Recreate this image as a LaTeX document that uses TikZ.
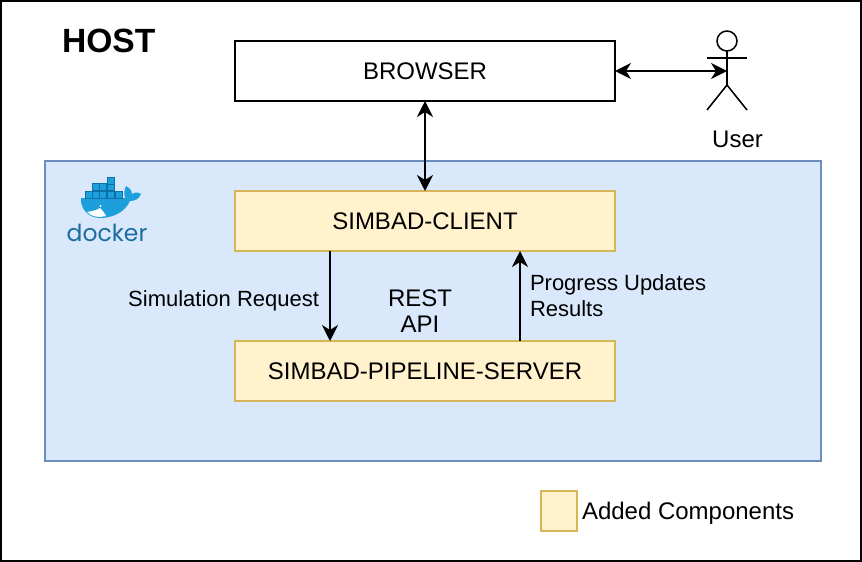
\documentclass[tikz,border=0pt]{standalone}
\usepackage{fontspec}
\setmainfont{Liberation Sans}
\newfontfamily\dockerfont{Poppins}
\usetikzlibrary{arrows.meta}
\definecolor{hostblue}{HTML}{DAE8FC}
\definecolor{hostedge}{HTML}{6C8EBF}
\definecolor{addfill}{HTML}{FFF2CC}
\definecolor{addedge}{HTML}{D6B656}
\definecolor{dockerblue}{HTML}{1D9FDB}
\definecolor{dockerdark}{HTML}{0B6FA8}
\definecolor{dockertext}{HTML}{1A6E9E}
\tikzset{
  x=1pt,y=-1pt,
  every node/.style={font=\fontsize{24}{28}\selectfont,text=black,inner sep=0pt,outer sep=0pt},
  plainbox/.style={draw=black,line width=1.5pt,fill=white,minimum width=380pt,minimum height=60pt,anchor=north west},
  addbox/.style={draw=addedge,line width=1.5pt,fill=addfill,minimum width=380pt,minimum height=60pt,anchor=north west},
  link/.style={draw=black,line width=1.5pt,-{Stealth[length=16pt,width=16pt,inset=5pt]}},
  biglink/.style={link,{Stealth[length=16pt,width=16pt,inset=5pt]}-{Stealth[length=16pt,width=16pt,inset=5pt]}},
  small/.style={font=\fontsize{22}{26}\selectfont,align=left},
  figure/.style={draw=black,line width=1.5pt},
  crate/.style={fill=dockerblue,draw=dockerdark,line width=0.5pt}
}
\begin{document}
\begin{tikzpicture}
\useasboundingbox (0,0) rectangle (862,562);
\draw[line width=1.5pt,fill=white] (1,1) rectangle (861,561);
\node[anchor=west,font=\fontsize{33.6}{38}\selectfont\bfseries] (host) at (62,41) {HOST};
\draw[draw=hostedge,line width=1.5pt,fill=hostblue] (45,161) rectangle (821,461);
\node[plainbox] (browser) at (235,41) {BROWSER};
\node[addbox] (client) at (235,191) {SIMBAD-CLIENT};
\node[addbox] (server) at (235,341) {SIMBAD-PIPELINE-SERVER};
\node[draw=addedge,line width=1.5pt,fill=addfill,minimum width=36pt,minimum height=40pt,anchor=north west] (legend) at (541,491) {};
\node[anchor=west] (legendtext) at (582,513.5) {Added Components};
% user
\draw[figure] (727,41) circle (10);
\draw[figure] (727,51) -- (727,85);
\draw[figure] (707,58) -- (747,58);
\draw[figure] (707,110) -- (727,85) -- (747,110);
\coordinate (userhub) at (727,71);
\node[anchor=center] (user) at (737.5,139) {User};
\draw[biglink] (browser.east) -- (userhub);
\draw[biglink] (browser.south) -- (client.north);
\coordinate (reqtop) at (330,251);
\coordinate (reqbot) at (330,341);
\coordinate (restop) at (520,251);
\coordinate (resbot) at (520,341);
\draw[link] (reqtop) -- (reqbot);
\draw[link] (resbot) -- (restop);
\node[anchor=east,small] (req) at (319,301) {Simulation Request};
\node[anchor=center,align=center,font=\fontsize{24}{26}\selectfont] (rest) at (420,311.5) {REST\\API};
\node[anchor=west,small] (prog) at (530,295.5) {Progress Updates\\Results};
% docker logo
\fill[dockerblue] (81,198) -- (125,198) .. controls (124,194) and (124,190) .. (126,186) .. controls (130,188) and (132,191) .. (132,194) .. controls (135,192) and (138,192) .. (141,194) .. controls (139,199) and (135,201) .. (130,201) .. controls (125,212) and (113,218) .. (100,218) .. controls (88,218) and (80,208) .. (81,198) -- cycle;
\fill[white] (87,212) .. controls (93,211) and (97,210) .. (100,208) .. controls (102,210) and (104,212) .. (106,216) .. controls (99,218) and (92,217) .. (87,212) -- cycle;
\fill[white] (100.5,206) circle (1.2);
\foreach \cx/\cy in {85/191,92/191,99/191,107/191,115/191,92/183,99/183,107/183,107/177}
  \filldraw[crate] (\cx,\cy) rectangle ++(7,7);
\node[anchor=center,text=dockertext,font=\fontsize{23.5}{24}\dockerfont\selectfont] (dockerword) at (107,233) {docker};
\end{tikzpicture}
\end{document}
